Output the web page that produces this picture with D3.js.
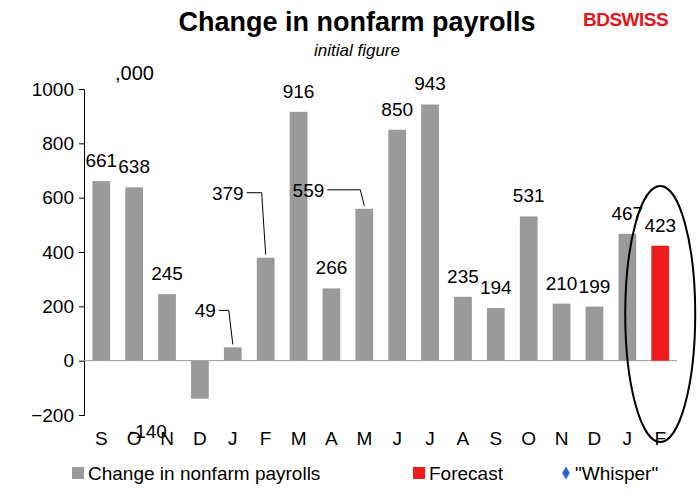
<!DOCTYPE html>
<html><head><meta charset="utf-8">
<script src="https://cdn.jsdelivr.net/npm/d3@7"></script>
<style>body{margin:0;background:#fff}text{font-family:Arial,"Liberation Sans",sans-serif}</style>
</head><body><svg id="c" width="700" height="499"></svg>
<script>
const categories=["S","O","N","D","J","F","M","A","M","J","J","A","S","O","N","D","J","F"];
const values=[661,638,245,-140,49,379,916,266,559,850,943,235,194,531,210,199,467,423];
const isForecast=[0,0,0,0,0,0,0,0,0,0,0,0,0,0,0,0,0,1];
const yTicks=[-200,0,200,400,600,800,1000];
const labelOffsets={4:[-17,-30],5:[-22,-58],8:[-40,-12]};

const svg=d3.select("#c");
const x=d3.scaleBand().domain(d3.range(categories.length)).range([84.5,677]).paddingInner(0.46).paddingOuter(0.24);
const y=d3.scaleLinear().domain([-200,1000]).range([415,89]);

svg.append("text").attr("x",357).attr("y",31).attr("text-anchor","middle").attr("font-size",27).attr("font-weight","bold").text("Change in nonfarm payrolls");
svg.append("text").attr("x",357).attr("y",56).attr("text-anchor","middle").attr("font-size",17).attr("font-style","italic").text("initial figure");
svg.append("text").attr("x",115).attr("y",80).attr("font-size",20).text(",000");
svg.append("text").attr("x",583).attr("y",26).attr("font-size",19).attr("font-weight","bold").attr("fill","#e3141b").attr("letter-spacing","-0.5").text("BDSWISS");

const ax=svg.append("g").attr("transform","translate(84,0)").call(d3.axisLeft(y).tickValues(yTicks).tickSize(5).tickFormat(d3.format("d")));
ax.select(".domain").attr("stroke","#000");
ax.selectAll("text").attr("font-size",19).attr("fill","#000").attr("dx",-2);
svg.append("line").attr("x1",84).attr("x2",677).attr("y1",y(0)).attr("y2",y(0)).attr("stroke","#999");
categories.forEach((c,i)=>svg.append("text").attr("x",x(i)+x.bandwidth()/2).attr("y",445).attr("text-anchor","middle").attr("font-size",19).text(c));

svg.selectAll("rect.bar").data(values).join("rect").attr("class","bar")
 .attr("x",(d,i)=>x(i)).attr("width",x.bandwidth())
 .attr("y",d=>y(Math.max(0,d))).attr("height",d=>Math.abs(y(d)-y(0)))
 .attr("fill",(d,i)=>isForecast[i]?"#ee1c1c":"#9a9a9a");

values.forEach((v,i)=>{
 const cx=x(i)+x.bandwidth()/2;
 const top=y(Math.max(0,v));
 if(labelOffsets[i]){
  const [dx,dy]=labelOffsets[i];
  const lx=cx+dx, ly=top+dy;
  svg.append("text").attr("x",lx).attr("y",ly).attr("text-anchor","end").attr("font-size",19).text(v);
  svg.append("polyline").attr("fill","none").attr("stroke","#000")
   .attr("points",`${lx+3},${ly-7} ${cx-4},${ly-7} ${cx},${top-3}`);
 } else if(v<0){
  svg.append("text").attr("x",cx-52).attr("y",y(v)+39).attr("text-anchor","middle").attr("font-size",19).text(v);
 } else {
  svg.append("text").attr("x",cx).attr("y",top-14).attr("text-anchor","middle").attr("font-size",19).text(v);
 }
});

svg.append("ellipse").attr("cx",x(17)+x.bandwidth()/2).attr("cy",314).attr("rx",35).attr("ry",128).attr("fill","none").attr("stroke","#000").attr("stroke-width",2);

const lg=svg.append("g");
lg.append("rect").attr("x",72).attr("y",467).attr("width",12).attr("height",12).attr("fill","#9a9a9a");
lg.append("text").attr("x",88).attr("y",480).attr("font-size",19).text("Change in nonfarm payrolls");
lg.append("rect").attr("x",413).attr("y",467).attr("width",12).attr("height",12).attr("fill","#ee1c1c");
lg.append("text").attr("x",429).attr("y",480).attr("font-size",19).text("Forecast");
lg.append("path").attr("d",d3.symbol(d3.symbolDiamond,50)()).attr("transform","translate(566,473)").attr("fill","#2e5fd6");
lg.append("text").attr("x",575).attr("y",480).attr("font-size",19).text("\"Whisper\"");
</script></body></html>
